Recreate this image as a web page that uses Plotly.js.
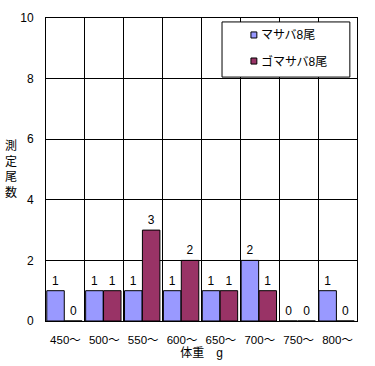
<!DOCTYPE html>
<html><head><meta charset="utf-8">
<script src="https://cdn.plot.ly/plotly-3.0.1.min.js"></script>
<style>html,body{margin:0;padding:0;background:#fff}#c{width:375px;height:366px}</style>
</head><body><div id="c"></div>
<script>
var categories = ['450〜','500〜','550〜','600〜','650〜','700〜','750〜','800〜'];
var masaba = [1,1,1,1,1,2,0,1];
var gomasaba = [0,1,3,2,1,1,0,0];
var seriesNames = ['マサバ8尾','ゴマサバ8尾'];
var seriesColors = ['#9999FF','#993366'];
var FONT = 'Liberation Sans, Noto Sans CJK JP, sans-serif';
var data = [
  {type:'bar', x:categories, y:masaba, name:seriesNames[0], showlegend:false,
   offset:-0.48, width:0.45, marker:{color:seriesColors[0], line:{color:'#000', width:1}},
   text:masaba.map(String), textposition:'outside', textfont:{size:12,color:'#000',family:FONT}, cliponaxis:false},
  {type:'bar', x:categories, y:gomasaba, name:seriesNames[1], showlegend:false,
   offset:-0.02, width:0.45, marker:{color:seriesColors[1], line:{color:'#000', width:1}},
   text:gomasaba.map(String), textposition:'outside', textfont:{size:12,color:'#000',family:FONT}, cliponaxis:false}
];
var legY = [0.944, 0.858];
var shapes = [{type:'rect', xref:'paper', yref:'paper', x0:0.566, x1:0.977, y0:0.805, y1:0.987,
    fillcolor:'#fff', line:{color:'#000', width:1}, layer:'above'}];
var annotations = [{text:'測<br>定<br>尾<br>数', xref:'paper', yref:'paper', x:-0.112, y:0.5,
    showarrow:false, font:{size:12}, xanchor:'center', yanchor:'middle'}];
for (var i=0;i<2;i++){
  shapes.push({type:'rect', xref:'paper', yref:'paper', x0:0.659, x1:0.678, y0:legY[i]-0.01, y1:legY[i]+0.01,
    fillcolor:seriesColors[i], line:{color:'#000', width:1}, layer:'above'});
  annotations.push({text:seriesNames[i], xref:'paper', yref:'paper', x:0.684, y:legY[i],
    xanchor:'left', yanchor:'middle', showarrow:false, font:{size:12}});
}
var layout = {
  width:375, height:366,
  margin:{l:46, r:18, t:18, b:45},
  paper_bgcolor:'#fff', plot_bgcolor:'#fff',
  font:{family:FONT, size:12, color:'#000'},
  barmode:'overlay', showlegend:false,
  xaxis:{type:'category', tickson:'boundaries', showgrid:true, gridcolor:'#000', gridwidth:1,
    showline:true, linecolor:'#000', linewidth:1, mirror:true, ticks:'', tickangle:0, ticklabelstandoff:8,
    tickfont:{size:11.5}, title:{text:'体重　g', font:{size:12}, standoff:2}, range:[-0.5,7.5]},
  yaxis:{range:[0,10], dtick:2, showgrid:true, gridcolor:'#000', gridwidth:1, zeroline:false,
    showline:true, linecolor:'#000', linewidth:1, mirror:true, ticks:'', ticklabelstandoff:9,
    tickfont:{size:12}},
  shapes:shapes,
  annotations:annotations
};
Plotly.newPlot('c', data, layout, {displayModeBar:false, staticPlot:true});
</script></body></html>
